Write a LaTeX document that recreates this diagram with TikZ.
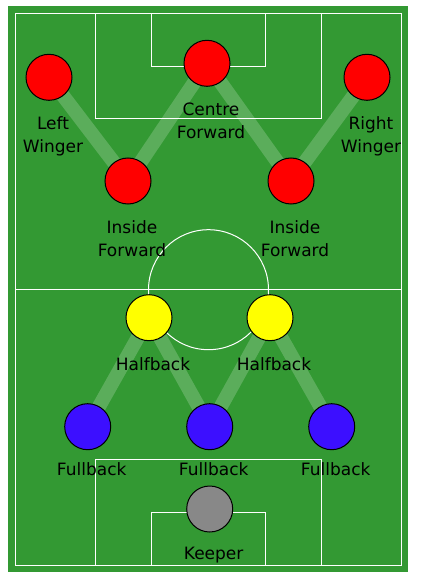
\documentclass[tikz,border=0pt]{standalone}
\usepackage{fontspec}
\setmainfont{DejaVu Sans}
\usetikzlibrary{positioning}
\definecolor{turf}{HTML}{339933}
\definecolor{fwdred}{HTML}{FF0000}
\definecolor{halfyellow}{HTML}{FFFF00}
\definecolor{backblue}{HTML}{3C0FFF}
\definecolor{keepgrey}{HTML}{888888}
\pgfdeclarelayer{grass}
\pgfdeclarelayer{runs}
\pgfsetlayers{grass,runs,main}
\tikzset{
  player/.style={circle, draw=black, line width=1pt, minimum size=46pt, inner sep=0pt},
  role/.style={font=\fontsize{17}{23}\selectfont, align=center, inner sep=0pt, xshift=4pt},
  chalk/.style={white, line width=1pt},
  run/.style={white, opacity=0.2, line width=14pt}
}

\begin{document}
\begin{tikzpicture}[x=1pt,y=-1pt]
    \useasboundingbox (0,0) rectangle (422,580);

    \begin{pgfonlayer}{grass}
        \fill[turf] (8,6) rectangle (408,572);
        \draw[chalk] (15.3,13.7) rectangle (401.7,565.3);
        \draw[chalk] (15.3,289.7) -- (401.7,289.7);
        \draw[chalk] (208.5,289.7) circle (60pt);
        \draw[chalk] (95.7,13.7) rectangle (321,119);
        \draw[chalk] (151.3,13.7) rectangle (265.7,66.3);
        \draw[chalk] (95.7,565.3) rectangle (321,459.3);
        \draw[chalk] (151.3,565.3) rectangle (265.7,512.3);
    \end{pgfonlayer}

    % forwards
    \node[player, fill=fwdred] at (49,77.3) (lw) {};
    \node[player, fill=fwdred] at (207,63.3) (cf) {};
    \node[player, fill=fwdred] at (367,77.3) (rw) {};
    \node[player, fill=fwdred] at (128,181) (il) {};
    \node[player, fill=fwdred] at (291,181) (ir) {};
    % halfbacks
    \node[player, fill=halfyellow] at (149,317.7) (lh) {};
    \node[player, fill=halfyellow] at (270,317.7) (rh) {};
    % fullbacks
    \node[player, fill=backblue] at (87.7,426.7) (lb) {};
    \node[player, fill=backblue] at (209.7,426.7) (cb) {};
    \node[player, fill=backblue] at (331.7,426.7) (rb) {};
    \node[player, fill=keepgrey] at (209.7,509) (gk) {};

    \node[role, below=16pt of lw] (lwt) {Left\\Winger};
    \node[role, below=16pt of cf] (cft) {Centre\\Forward};
    \node[role, below=16pt of rw] (rwt) {Right\\Winger};
    \node[role, below=16pt of il] (ilt) {Inside\\Forward};
    \node[role, below=16pt of ir] (irt) {Inside\\Forward};
    \node[role, below=16pt of lh] (lht) {Halfback};
    \node[role, below=16pt of rh] (rht) {Halfback};
    \node[role, below=12pt of lb] (lbt) {Fullback};
    \node[role, below=12pt of cb] (cbt) {Fullback};
    \node[role, below=12pt of rb] (rbt) {Fullback};
    \node[role, below=14pt of gk] (gkt) {Keeper};

    \begin{pgfonlayer}{runs}
        \draw[run] (lw.center) -- (il.center) -- (cf.center) -- (ir.center) -- (rw.center);
        \draw[run] (lb.center) -- (lh.center) -- (cb.center) -- (rh.center) -- (rb.center);
    \end{pgfonlayer}
\end{tikzpicture}
\end{document}
